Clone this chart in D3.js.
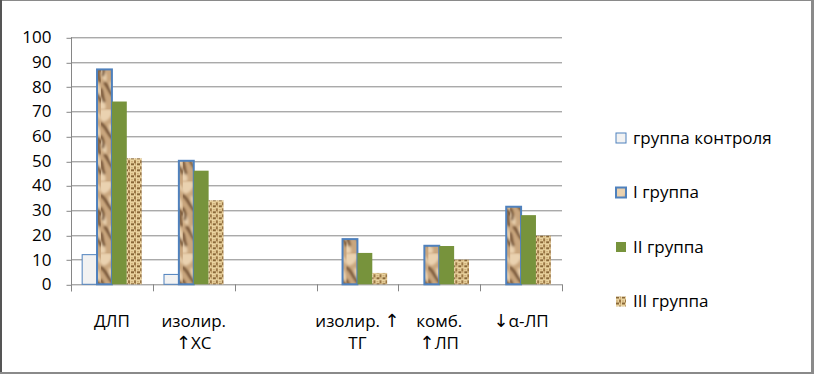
<!DOCTYPE html>
<html>
<head>
<meta charset="utf-8">
<script src="https://cdn.jsdelivr.net/npm/d3@7"></script>
<style>
  body { margin: 0; background: #fff; }
  text { font-family: "Open Sans", "Noto Sans", sans-serif; fill: #000; }
  tspan.arrow { font-family: "DejaVu Sans", sans-serif; font-size: 18px; }
</style>
</head>
<body>
<div id="chart"></div>
<script>
// Chart values
var categories = ["ДЛП", "изолир.\n↑ХС", "", "изолир. ↑\nТГ", "комб.\n↑ЛП", "↓α-ЛП"];
var seriesNames = ["группа контроля", "I группа", "II группа", "III группа"];
var controlValues = [12, 4, 0, 0, 0, 0];
var group1Values = [87, 50, 0, 18.3, 15.6, 31.4];
var group2Values = [74, 46, 0, 12.7, 15.5, 28];
var group3Values = [51, 34, 0, 4.6, 10, 19.7];
var yTicks = [0, 10, 20, 30, 40, 50, 60, 70, 80, 90, 100];

var seriesValues = [controlValues, group1Values, group2Values, group3Values];

// SVG size
var svgWidth = 814;
var svgHeight = 374;

// Plot area
var margin = { top: 37.3, left: 71 };
var chartWidth = 491;
var chartHeight = 247;

var svg = d3.select("#chart")
    .append("svg")
    .attr("width", svgWidth)
    .attr("height", svgHeight);

// Textures
var defs = svg.append("defs");

defs.append("filter")
    .attr("id", "soft")
    .attr("x", "-20%").attr("y", "-20%").attr("width", "140%").attr("height", "140%")
    .append("feGaussianBlur")
    .attr("stdDeviation", 0.9);

// crumpled paper for I group
var paper = defs.append("pattern")
    .attr("id", "paper")
    .attr("patternUnits", "userSpaceOnUse")
    .attr("width", 15)
    .attr("height", 72);

paper.append("rect")
    .attr("width", 15).attr("height", 72)
    .attr("fill", "#c9a67e");

var paperInk = paper.append("g").attr("filter", "url(#soft)");

var lightPatches = [
    "M-2,0 L10,0 C12,6 8,10 4,12 C0,13 -2,8 -2,4 Z",
    "M8,14 C13,16 16,22 14,28 C10,26 7,20 8,14 Z",
    "M-1,30 C4,32 7,38 5,44 C1,42 -2,36 -1,30 Z",
    "M9,44 C14,46 16,54 15,60 C11,58 8,50 9,44 Z",
    "M-2,60 C3,62 6,68 4,72 L-2,72 Z",
    "M10,2 C14,4 16,8 16,12 C13,10 11,6 10,2 Z"
];
paperInk.selectAll(".light")
    .data(lightPatches)
    .enter().append("path")
    .attr("d", d => d)
    .attr("fill", "#ead2b0");

var darkStreaks = [
    "M0,14 C4,17 6,22 9,26 C11,29 13,31 15,33",
    "M0,27 C2,30 3,34 2,38",
    "M4,46 C7,49 8,54 11,57 C13,59 14,62 15,64",
    "M0,52 C2,56 1,60 3,64",
    "M12,34 C13,38 12,41 14,44"
];
paperInk.selectAll(".dark")
    .data(darkStreaks)
    .enter().append("path")
    .attr("d", d => d)
    .attr("fill", "none")
    .attr("stroke", "#6e4e30")
    .attr("stroke-width", 2.6)
    .attr("stroke-linecap", "round");

// woven burlap for III group
var burlap = defs.append("pattern")
    .attr("id", "burlap")
    .attr("patternUnits", "userSpaceOnUse")
    .attr("width", 6)
    .attr("height", 6);
burlap.append("rect").attr("width", 6).attr("height", 6).attr("fill", "#ead39f");
burlap.append("rect").attr("x", 0).attr("y", 0).attr("width", 3).attr("height", 2).attr("fill", "#8a6838");
burlap.append("rect").attr("x", 3).attr("y", 3).attr("width", 2).attr("height", 3).attr("fill", "#9a7644");
burlap.append("rect").attr("x", 4).attr("y", 0).attr("width", 1).attr("height", 2).attr("fill", "#c4a26a");
burlap.append("rect").attr("x", 0).attr("y", 4).attr("width", 2).attr("height", 1).attr("fill", "#c4a26a");

var fills = ["#f2f2f2", "url(#paper)", "#77933c", "url(#burlap)"];
var strokes = ["#4f81bd", "#4f81bd", "none", "none"];
var strokeWidths = [1, 2, 0, 0];

// Frame around the picture
svg.append("rect")
    .attr("x", 0).attr("y", 0)
    .attr("width", svgWidth).attr("height", svgHeight)
    .attr("fill", "#fff");
svg.append("line").attr("x1", 0).attr("x2", svgWidth).attr("y1", 0.5).attr("y2", 0.5)
    .attr("stroke", "#8a8a8a").attr("stroke-width", 1);
svg.append("line").attr("x1", 1).attr("x2", 1).attr("y1", 0).attr("y2", svgHeight)
    .attr("stroke", "#555").attr("stroke-width", 2);
svg.append("line").attr("x1", svgWidth - 1.5).attr("x2", svgWidth - 1.5).attr("y1", 0).attr("y2", svgHeight)
    .attr("stroke", "#8a8a8a").attr("stroke-width", 3);
svg.append("line").attr("x1", 0).attr("x2", svgWidth).attr("y1", svgHeight - 1).attr("y2", svgHeight - 1)
    .attr("stroke", "#8a8a8a").attr("stroke-width", 2);

var chartGroup = svg.append("g")
    .attr("transform", `translate(${margin.left}, ${margin.top})`);

// Scales
var x0 = d3.scaleBand()
    .domain(d3.range(categories.length))
    .range([0, chartWidth])
    .paddingInner(0)
    .paddingOuter(0);

var x1 = d3.scaleBand()
    .domain(d3.range(seriesNames.length))
    .range([0, x0.bandwidth()])
    .paddingInner(0)
    .paddingOuter(0.75);

var y = d3.scaleLinear()
    .domain([0, 100])
    .range([chartHeight, 0]);

// Gridlines
chartGroup.append("g")
    .selectAll("line")
    .data(yTicks)
    .enter().append("line")
    .attr("x1", 0)
    .attr("x2", chartWidth)
    .attr("y1", d => Math.round(y(d)) + 0.5)
    .attr("y2", d => Math.round(y(d)) + 0.5)
    .attr("stroke", "#868686");

// Y axis
var leftAxis = d3.axisLeft(y)
    .tickValues(yTicks)
    .tickSize(5)
    .tickPadding(15)
    .tickSizeOuter(0);

var yAxis = chartGroup.append("g")
    .attr("transform", "translate(0.5,0)")
    .call(leftAxis);
yAxis.select(".domain").remove();
yAxis.selectAll("line").attr("stroke", "#868686")
    .attr("transform", d => `translate(0,${Math.round(y(d)) + 0.5 - y(d)})`);
yAxis.selectAll("text")
    .style("font-family", "'Open Sans', 'Noto Sans', sans-serif")
    .style("font-size", "17px")
    .attr("fill", "#000");

chartGroup.append("line")
    .attr("x1", 0.5).attr("x2", 0.5)
    .attr("y1", 0).attr("y2", chartHeight + 7)
    .attr("stroke", "#868686");

// Category boundary ticks
var boundaries = d3.range(categories.length + 1);
chartGroup.append("g")
    .selectAll("line")
    .data(boundaries)
    .enter().append("line")
    .attr("x1", d => Math.round(d * x0.step()) + 0.5)
    .attr("x2", d => Math.round(d * x0.step()) + 0.5)
    .attr("y1", chartHeight)
    .attr("y2", chartHeight + 7)
    .attr("stroke", "#868686");

// Bars
var groups = chartGroup.selectAll(".cat")
    .data(categories)
    .enter().append("g")
    .attr("class", "cat")
    .attr("transform", (d, i) => `translate(${x0(i)},0)`);

groups.each(function(c, ci) {
    var g = d3.select(this);
    seriesValues.forEach(function(vals, si) {
        var v = vals[ci];
        if (v <= 0) return;
        g.append("rect")
            .attr("x", x1(si))
            .attr("y", y(v))
            .attr("width", x1.bandwidth())
            .attr("height", chartHeight - y(v))
            .attr("fill", fills[si])
            .attr("stroke", strokes[si])
            .attr("stroke-width", strokeWidths[si]);
    });
});

// Category labels, arrows set in a font that has full-size arrow glyphs
var labels = chartGroup.selectAll(".catLabel")
    .data(categories)
    .enter().append("text")
    .attr("class", "catLabel")
    .attr("text-anchor", "middle")
    .style("font-size", "17px")
    .attr("transform", (d, i) => `translate(${x0(i) + x0.bandwidth() / 2},${chartHeight + 43})`);

labels.selectAll(".line")
    .data(d => d.split("\n"))
    .enter().append("tspan")
    .attr("class", "line")
    .attr("x", 0)
    .attr("dy", (d, i) => i === 0 ? 0 : 22)
    .each(function(line) {
        var t = d3.select(this);
        line.split(/([↑↓])/).forEach(function(part) {
            if (!part) return;
            t.append("tspan")
                .attr("class", /[↑↓]/.test(part) ? "arrow" : null)
                .text(part);
        });
    });

// Legend
var legend = svg.append("g")
    .attr("transform", "translate(616,133)");

var legendItem = legend.selectAll(".legendItem")
    .data(seriesNames)
    .enter().append("g")
    .attr("class", "legendItem")
    .attr("transform", (d, i) => `translate(0,${i * 54.5})`);

legendItem.append("rect")
    .attr("width", 10)
    .attr("height", 10)
    .attr("fill", (d, i) => fills[i])
    .attr("stroke", (d, i) => strokes[i])
    .attr("stroke-width", (d, i) => strokeWidths[i]);

legendItem.append("text")
    .attr("x", 17)
    .attr("y", 5)
    .attr("dy", "0.35em")
    .style("font-size", "17px")
    .text(d => d);
</script>
</body>
</html>
